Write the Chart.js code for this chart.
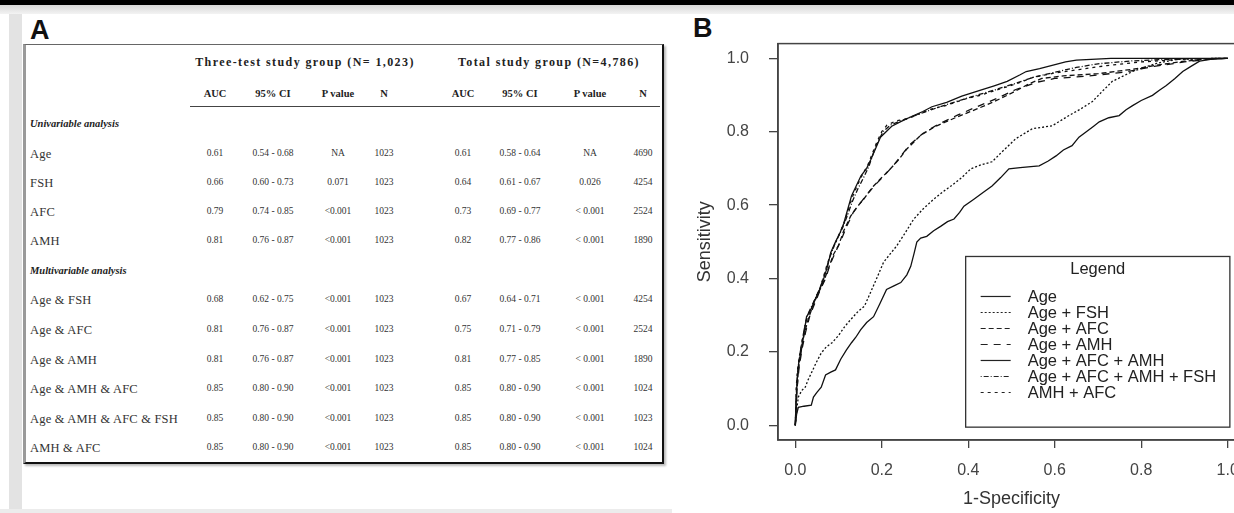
<!DOCTYPE html>
<html>
<head>
<meta charset="utf-8">
<script src="https://cdn.jsdelivr.net/npm/chart.js@4.4.1/dist/chart.umd.min.js"></script>
<style>
  html, body { margin: 0; padding: 0; }
  body { width: 1234px; height: 513px; overflow: hidden; position: relative; background: #fff; }
  #topbar { position: absolute; left: 0; top: 0; width: 1234px; height: 5px; background: #000; }
  #topband { position: absolute; left: 0; top: 5px; width: 1234px; height: 9px; background: linear-gradient(#d8d8d8, #f3f3f3); }
  #strip { position: absolute; left: 9px; top: 14px; width: 13px; height: 499px; background: #e3e3e3; }
  #bottomline { position: absolute; left: 0; top: 509px; width: 672px; height: 4px; background: #ececec; }
  .plabel { position: absolute; font-family: "Liberation Sans", Arial, sans-serif; font-weight: bold; font-size: 27px; color: #111; line-height: 1; }
  #tbl { position: absolute; left: 23px; top: 44px; width: 636px; height: 417px;
         border-top: 1px solid #666; border-left: 3px solid #9a9a9a; border-right: 2px solid #111; border-bottom: 2px solid #111;
         box-shadow: 2px 2px 2px #bbb; }
  #uline { position: absolute; left: 190px; top: 106px; width: 470px; height: 0; border-top: 1.5px solid #444; }
  .c { position: absolute; white-space: nowrap; color: #222; font-family: "Liberation Serif", "Times New Roman", serif; line-height: 1; }
  .mid { transform: translate(-50%, -50%); }
  .lft { transform: translateY(-50%); }
  #chartBox { position: absolute; left: 688px; top: 14px; width: 570px; height: 499px; }
</style>
</head>
<body>
<div id="topbar"></div>
<div id="topband"></div>
<div id="strip"></div>
<div id="bottomline"></div>
<div class="plabel" style="left:30px; top:17px;">A</div>
<div class="plabel" style="left:693px; top:15px;">B</div>
<div id="tbl"></div>
<div id="uline"></div>
<div id="cells"></div>
<div id="chartBox"><canvas id="roc"></canvas></div>

<script>
// ---- table values (panel A) ----
const groupHeaders = ['Three-test study group (N= 1,023)', 'Total study group (N=4,786)'];
const subHeaders = ['AUC', '95% CI', 'P value', 'N'];
const sectionTitles = ['Univariable analysis', 'Multivariable analysis'];
const rowLabels = ['Age', 'FSH', 'AFC', 'AMH',
  'Age & FSH', 'Age & AFC', 'Age & AMH', 'Age & AMH & AFC', 'Age & AMH & AFC & FSH', 'AMH & AFC'];
const aucThree = ['0.61', '0.66', '0.79', '0.81', '0.68', '0.81', '0.81', '0.85', '0.85', '0.85'];
const ciThree = ['0.54 - 0.68', '0.60 - 0.73', '0.74 - 0.85', '0.76 - 0.87', '0.62 - 0.75', '0.76 - 0.87', '0.76 - 0.87', '0.80 - 0.90', '0.80 - 0.90', '0.80 - 0.90'];
const pThree = ['NA', '0.071', '<0.001', '<0.001', '<0.001', '<0.001', '<0.001', '<0.001', '<0.001', '<0.001'];
const nThree = ['1023', '1023', '1023', '1023', '1023', '1023', '1023', '1023', '1023', '1023'];
const aucTotal = ['0.61', '0.64', '0.73', '0.82', '0.67', '0.75', '0.81', '0.85', '0.85', '0.85'];
const ciTotal = ['0.58 - 0.64', '0.61 - 0.67', '0.69 - 0.77', '0.77 - 0.86', '0.64 - 0.71', '0.71 - 0.79', '0.77 - 0.85', '0.80 - 0.90', '0.80 - 0.90', '0.80 - 0.90'];
const pTotal = ['NA', '0.026', '< 0.001', '< 0.001', '< 0.001', '< 0.001', '< 0.001', '< 0.001', '< 0.001', '< 0.001'];
const nTotal = ['4690', '4254', '2524', '1890', '4254', '2524', '1890', '1024', '1023', '1024'];

// ---- ROC curves (panel B), [1-specificity, sensitivity] ----
const seriesLabels = ['Age', 'Age + FSH', 'Age + AFC', 'Age + AMH', 'Age + AFC + AMH', 'Age + AFC + AMH + FSH', 'AMH + AFC'];
const rocAge = [[0,0],[0.003,0.03],[0.007,0.049],[0.02,0.052],[0.037,0.055],[0.042,0.077],[0.05,0.09],[0.06,0.104],[0.07,0.137],[0.082,0.145],[0.093,0.151],[0.105,0.18],[0.118,0.205],[0.13,0.225],[0.14,0.24],[0.151,0.26],[0.165,0.28],[0.181,0.296],[0.195,0.33],[0.211,0.37],[0.228,0.38],[0.244,0.389],[0.258,0.41],[0.267,0.433],[0.275,0.47],[0.281,0.499],[0.29,0.51],[0.304,0.515],[0.32,0.53],[0.336,0.542],[0.352,0.555],[0.367,0.562],[0.38,0.58],[0.39,0.597],[0.413,0.616],[0.435,0.635],[0.455,0.652],[0.475,0.675],[0.494,0.699],[0.52,0.702],[0.545,0.705],[0.564,0.707],[0.585,0.72],[0.603,0.734],[0.62,0.75],[0.64,0.762],[0.656,0.785],[0.673,0.8],[0.69,0.815],[0.703,0.827],[0.725,0.838],[0.749,0.844],[0.765,0.86],[0.78,0.871],[0.8,0.885],[0.826,0.899],[0.842,0.913],[0.858,0.926],[0.878,0.945],[0.896,0.964],[0.915,0.978],[0.935,0.992],[0.96,0.997],[0.998,1],[1,1]];
const rocAgeFsh = [[0,0],[0.004,0.05],[0.007,0.077],[0.015,0.095],[0.023,0.104],[0.03,0.125],[0.037,0.142],[0.048,0.17],[0.06,0.197],[0.072,0.214],[0.085,0.225],[0.1,0.245],[0.115,0.27],[0.128,0.288],[0.145,0.31],[0.16,0.325],[0.174,0.362],[0.19,0.405],[0.204,0.444],[0.218,0.465],[0.234,0.488],[0.255,0.526],[0.274,0.562],[0.296,0.59],[0.32,0.616],[0.34,0.635],[0.36,0.652],[0.385,0.675],[0.406,0.699],[0.43,0.71],[0.455,0.718],[0.478,0.745],[0.51,0.781],[0.548,0.808],[0.594,0.816],[0.633,0.844],[0.66,0.862],[0.687,0.882],[0.71,0.91],[0.733,0.937],[0.78,0.964],[0.835,0.986],[0.882,0.997],[0.988,1],[1,1]];
const rocAgeAfc = [[0,0],[0.003,0.08],[0.007,0.15],[0.013,0.2],[0.02,0.245],[0.03,0.29],[0.042,0.33],[0.053,0.36],[0.065,0.39],[0.076,0.425],[0.088,0.465],[0.1,0.49],[0.112,0.53],[0.128,0.57],[0.143,0.595],[0.158,0.616],[0.17,0.635],[0.181,0.652],[0.2,0.675],[0.22,0.699],[0.24,0.725],[0.258,0.753],[0.29,0.79],[0.32,0.812],[0.37,0.838],[0.42,0.862],[0.46,0.882],[0.5,0.905],[0.54,0.93],[0.57,0.945],[0.62,0.952],[0.7,0.958],[0.78,0.97],[0.84,0.982],[0.9,0.992],[0.95,0.998],[1,1]];
const rocAgeAmh = [[0,0],[0.004,0.1],[0.009,0.16],[0.016,0.21],[0.024,0.255],[0.034,0.3],[0.046,0.335],[0.058,0.37],[0.07,0.4],[0.081,0.44],[0.094,0.475],[0.106,0.505],[0.12,0.545],[0.134,0.58],[0.15,0.605],[0.165,0.628],[0.185,0.655],[0.205,0.68],[0.225,0.705],[0.245,0.735],[0.265,0.765],[0.295,0.795],[0.33,0.82],[0.375,0.845],[0.42,0.868],[0.465,0.89],[0.51,0.915],[0.56,0.935],[0.6,0.945],[0.68,0.952],[0.76,0.962],[0.83,0.978],[0.9,0.99],[0.96,0.998],[1,1]];
const rocAgeAfcAmh = [[0,0],[0.002,0.06],[0.004,0.12],[0.008,0.17],[0.014,0.205],[0.02,0.25],[0.026,0.296],[0.038,0.32],[0.049,0.351],[0.058,0.375],[0.065,0.397],[0.075,0.435],[0.082,0.471],[0.093,0.5],[0.104,0.526],[0.112,0.55],[0.118,0.575],[0.13,0.625],[0.14,0.65],[0.152,0.68],[0.165,0.7],[0.175,0.725],[0.186,0.755],[0.197,0.785],[0.21,0.8],[0.223,0.815],[0.245,0.828],[0.27,0.842],[0.295,0.855],[0.316,0.868],[0.35,0.88],[0.385,0.897],[0.425,0.912],[0.46,0.925],[0.49,0.937],[0.52,0.955],[0.534,0.964],[0.565,0.972],[0.594,0.981],[0.625,0.99],[0.65,0.995],[0.73,1],[1,1]];
const rocAgeAfcAmhFsh = [[0,0],[0.002,0.08],[0.005,0.14],[0.01,0.19],[0.016,0.23],[0.022,0.27],[0.03,0.305],[0.042,0.335],[0.052,0.36],[0.062,0.39],[0.07,0.42],[0.079,0.455],[0.09,0.49],[0.1,0.515],[0.11,0.54],[0.12,0.57],[0.132,0.61],[0.145,0.645],[0.158,0.675],[0.17,0.705],[0.18,0.74],[0.19,0.77],[0.203,0.8],[0.22,0.818],[0.245,0.83],[0.275,0.843],[0.31,0.858],[0.345,0.872],[0.385,0.887],[0.43,0.903],[0.47,0.917],[0.51,0.932],[0.55,0.948],[0.6,0.962],[0.65,0.975],[0.7,0.985],[0.78,0.993],[0.88,0.998],[1,1]];
const rocAmhAfc = [[0,0],[0.002,0.1],[0.005,0.15],[0.011,0.2],[0.018,0.245],[0.026,0.29],[0.036,0.315],[0.046,0.345],[0.056,0.37],[0.064,0.4],[0.074,0.44],[0.083,0.47],[0.094,0.5],[0.105,0.53],[0.114,0.555],[0.122,0.585],[0.133,0.625],[0.144,0.655],[0.156,0.685],[0.168,0.71],[0.178,0.74],[0.188,0.77],[0.2,0.8],[0.212,0.818],[0.235,0.83],[0.26,0.835],[0.285,0.848],[0.31,0.86],[0.35,0.872],[0.39,0.888],[0.43,0.9],[0.47,0.915],[0.51,0.93],[0.55,0.948],[0.6,0.96],[0.66,0.97],[0.72,0.98],[0.8,0.99],[0.9,0.998],[1,1]];
const axisTicks = [0, 0.2, 0.4, 0.6, 0.8, 1.0];

// ---- build table ----
const cells = document.getElementById('cells');
function cell(text, x, y, cls, style) {
  const d = document.createElement('div');
  d.className = 'c ' + cls;
  d.textContent = text;
  d.style.left = x + 'px';
  d.style.top = y + 'px';
  if (style) d.style.cssText += style;
  cells.appendChild(d);
}
const colX = [215, 273, 338, 384, 463, 520, 590, 643];
const rowY = [154, 183, 212, 241, 300, 330, 360, 389, 419, 448];
const headStyle = 'font-weight:bold;font-size:12px;letter-spacing:1.4px;';
const subStyle = 'font-weight:bold;font-size:10.5px;';
const valStyle = 'font-size:9.5px;color:#333;';
const labStyle = 'font-size:12.5px;letter-spacing:0.2px;color:#333;';
cell(groupHeaders[0], 305, 62, 'mid', headStyle);
cell(groupHeaders[1], 549, 62, 'mid', headStyle);
subHeaders.concat(subHeaders).forEach((t, i) => cell(t, colX[i], 94, 'mid', subStyle));
cell(sectionTitles[0], 30, 124, 'lft', 'font-weight:bold;font-style:italic;font-size:10.5px;');
cell(sectionTitles[1], 30, 271, 'lft', 'font-weight:bold;font-style:italic;font-size:10.5px;');
rowLabels.forEach((lab, r) => {
  const y = rowY[r];
  cell(lab, 30, y, 'lft', labStyle);
  [aucThree, ciThree, pThree, nThree, aucTotal, ciTotal, pTotal, nTotal].forEach((col, c) => {
    cell(col[r], colX[c], y, 'mid', valStyle);
  });
});

// ---- ROC chart ----
const dashes = [[], [2, 2], [5, 3], [7, 6], [], [1, 2, 5, 2], [3, 4]];
const curves = [rocAge, rocAgeFsh, rocAgeAfc, rocAgeAmh, rocAgeAfcAmh, rocAgeAfcAmhFsh, rocAmhAfc];

// draws the box around the plot and the R-style legend
const boxAndLegend = {
  id: 'boxAndLegend',
  afterDatasetsDraw(chart) {
    const { ctx, chartArea: a, scales: { x, y } } = chart;
    ctx.save();
    ctx.strokeStyle = '#444';
    ctx.lineWidth = 1.5;
    ctx.strokeRect(a.left, a.top, a.right - a.left, a.bottom - a.top);

    const lx0 = x.getPixelForValue(0.394), lx1 = x.getPixelForValue(1.005);
    const ly0 = y.getPixelForValue(0.46), ly1 = y.getPixelForValue(-0.005);
    ctx.fillStyle = '#fff';
    ctx.fillRect(lx0, ly0, lx1 - lx0, ly1 - ly0);
    ctx.strokeStyle = '#333';
    ctx.lineWidth = 1.3;
    ctx.strokeRect(lx0, ly0, lx1 - lx0, ly1 - ly0);

    ctx.fillStyle = '#222';
    ctx.font = '16.5px "Liberation Sans", Arial, sans-serif';
    ctx.textBaseline = 'middle';
    ctx.textAlign = 'center';
    ctx.fillText('Legend', (lx0 + lx1) / 2, ly0 + 13);
    ctx.textAlign = 'left';
    chart.data.datasets.forEach((ds, i) => {
      const yy = ly0 + 40 + i * 16;
      ctx.beginPath();
      ctx.setLineDash(ds.borderDash);
      ctx.strokeStyle = '#222';
      ctx.lineWidth = 1.2;
      ctx.moveTo(lx0 + 15, yy);
      ctx.lineTo(lx0 + 45, yy);
      ctx.stroke();
      ctx.setLineDash([]);
      ctx.fillText(ds.label, lx0 + 62, yy + 1);
    });
    ctx.restore();
  }
};

const axisFont = { family: '"Liberation Sans", Arial, sans-serif', size: 16 };
const titleFont = { family: '"Liberation Sans", Arial, sans-serif', size: 18 };

new Chart(document.getElementById('roc'), {
  type: 'scatter',
  data: {
    datasets: curves.map((c, i) => ({
      label: seriesLabels[i],
      data: c.map(p => ({ x: p[0], y: p[1] })),
      showLine: true,
      borderColor: '#111',
      borderWidth: 1.3,
      borderDash: dashes[i],
      pointRadius: 0,
      tension: 0
    }))
  },
  options: {
    responsive: true,
    maintainAspectRatio: false,
    animation: false,
    devicePixelRatio: 1,
    layout: { padding: { top: 13, right: 13, left: 0, bottom: 0 } },
    plugins: { legend: { display: false }, tooltip: { enabled: false } },
    scales: {
      x: {
        type: 'linear', min: -0.04, max: 1.04,
        afterBuildTicks: s => { s.ticks = axisTicks.map(v => ({ value: v })); },
        afterFit: s => { s.height = 73; },
        grid: { drawOnChartArea: false, drawTicks: true, tickLength: 8, color: '#444', lineWidth: 1.3 },
        border: { display: true, color: '#444', width: 1.5 },
        ticks: { font: axisFont, color: '#444', padding: 13, maxRotation: 0, callback: v => v.toFixed(1) },
        title: { display: true, text: '1-Specificity', font: titleFont, color: '#333', padding: { top: 0, bottom: 3 } }
      },
      y: {
        type: 'linear', min: -0.04, max: 1.04,
        afterBuildTicks: s => { s.ticks = axisTicks.map(v => ({ value: v })); },
        afterFit: s => { s.width = 90; },
        grid: { drawOnChartArea: false, drawTicks: true, tickLength: 9, color: '#444', lineWidth: 1.3 },
        border: { display: true, color: '#444', width: 1.5 },
        ticks: { font: axisFont, color: '#444', padding: 20, callback: v => v.toFixed(1) },
        title: { display: true, text: 'Sensitivity', font: titleFont, color: '#333', padding: { top: 6, bottom: 0 } }
      }
    }
  },
  plugins: [boxAndLegend]
});
</script>
</body>
</html>
